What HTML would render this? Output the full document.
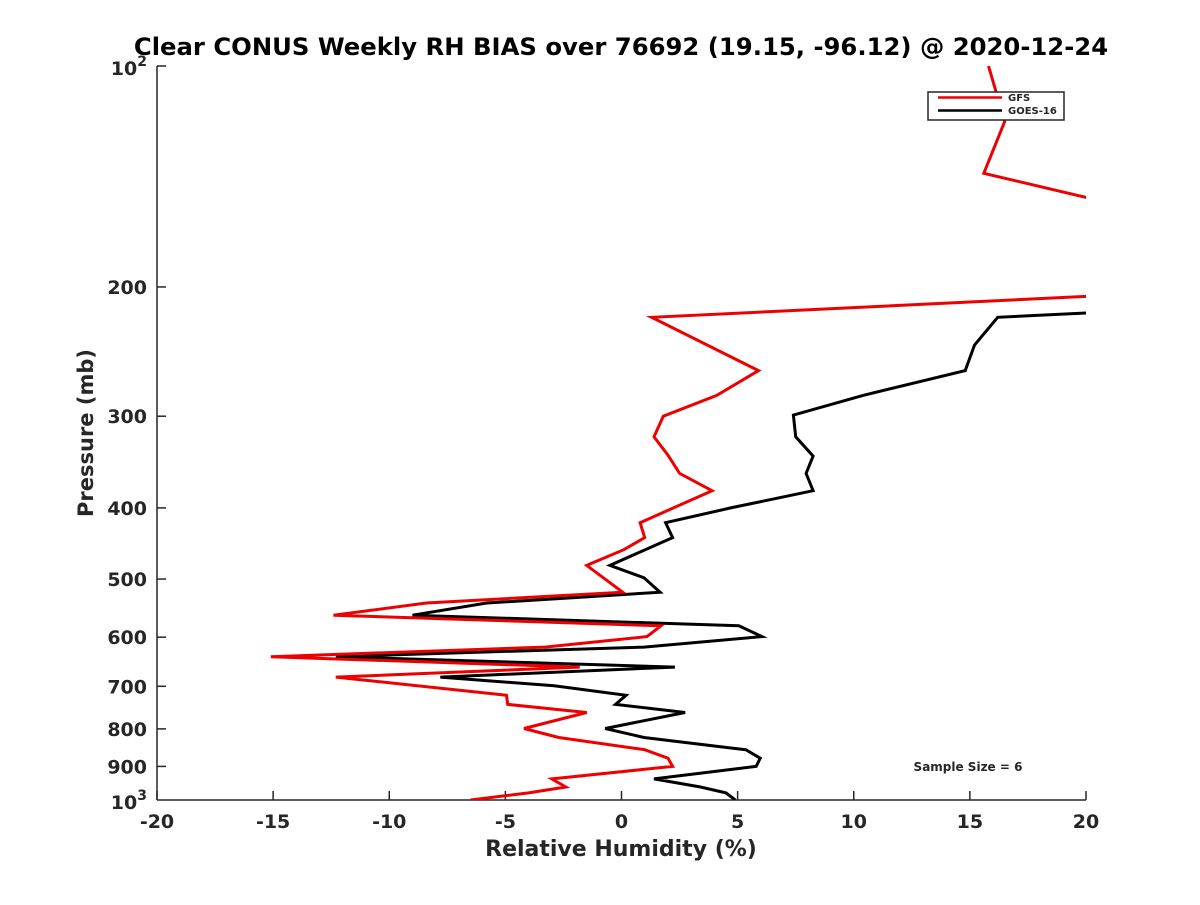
<!DOCTYPE html>
<html><head><meta charset="utf-8"><style>
body{margin:0;background:#fff;}
svg text{font-family:"DejaVu Sans","Liberation Sans",sans-serif;font-weight:bold;fill:#262626;}
</style></head><body>
<svg id="chart" width="1200" height="900" xmlns="http://www.w3.org/2000/svg">
<rect width="1200" height="900" fill="#fff"/>
<defs><clipPath id="plotclip"><rect x="157" y="66" width="929" height="734"/></clipPath></defs>
<text x="621" y="55" font-size="24.3" text-anchor="middle" style="fill:#000">Clear CONUS Weekly RH BIAS over 76692 (19.15, -96.12) @ 2020-12-24</text>
<g id="axes"></g>
<g id="series" clip-path="url(#plotclip)"></g>
<g>
<rect x="928" y="92" width="136" height="28" fill="#fff" stroke="#262626" stroke-width="1.5"/>
<line x1="938" y1="97.5" x2="1002" y2="97.5" stroke="#e00" stroke-width="2.5"/>
<text x="1008" y="101" font-size="10">GFS</text>
<line x1="938" y1="110.5" x2="1002" y2="110.5" stroke="#000" stroke-width="2.5"/>
<text x="1008" y="114" font-size="10">GOES-16</text>
</g>
<text x="968" y="771" font-size="12" text-anchor="middle">Sample Size = 6</text>
</svg>
<script>
const xTicks=[-20,-15,-10,-5,0,5,10,15,20];
const yTicks=[200,300,400,500,600,700,800,900];
const gfsPressure=[100,119,140,151,178,206,220,260,281,300,320,339,359,379,419,439,456,479,521,539,560,579,599,619,638,659,680,720,741,760,799,822,854,877,900,936,960,978,1000];
const gfsValues=[15.8,16.5,15.6,20,28,20,1.3,5.9,4.1,1.8,1.4,2.0,2.5,3.9,0.8,1.0,0.1,-1.5,0.05,-8.4,-12.4,1.7,1.1,-3.3,-15.1,-1.8,-12.3,-4.95,-4.9,-1.5,-4.2,-2.7,1.0,2.0,2.2,-3.0,-2.4,-4.0,-6.5];
const goesPressure=[215,217,220,240,260,281,299,320,340,359,379,400,419,439,479,498,521,529,539,560,579,599,619,638,659,680,699,720,741,760,799,822,850,854,877,900,936,960,978,1000];
const goesValues=[26,20,16.2,15.2,14.8,10.4,7.4,7.5,8.25,7.95,8.25,4.7,1.9,2.2,-0.5,0.97,1.66,-1.6,-5.8,-9.0,5.05,6.05,0.97,-12.3,2.3,-7.8,-2.9,0.2,-0.26,2.74,-0.7,0.97,4.8,5.35,5.97,5.8,1.4,3.4,4.5,4.9];
const X0=157,X1=1086,Y0=66,Y1=800;
function xs(v){return X0+(v+20)/40*(X1-X0);}
function ys(p){return Y0+Math.log10(p/100)*(Y1-Y0);}
const NS='http://www.w3.org/2000/svg';
const axes=document.getElementById('axes'),series=document.getElementById('series');
function mk(tag,attrs,parent){const e=document.createElementNS(NS,tag);for(const k in attrs)e.setAttribute(k,attrs[k]);parent.appendChild(e);return e;}
let l=mk('line',{x1:X0,y1:Y0,x2:X0,y2:Y1,stroke:'#262626','stroke-width':1.5},axes);


l=mk('line',{x1:X0,y1:Y1,x2:X1,y2:Y1,stroke:'#262626','stroke-width':1.5},axes);


mk('line',{x1:X0,y1:Y0,x2:X0+9,y2:Y0,stroke:'#262626','stroke-width':1.5},axes);
xTicks.forEach(v=>{const x=xs(v);
 mk('line',{x1:x,y1:Y1,x2:x,y2:Y1-9,stroke:'#262626','stroke-width':1.5},axes);
 const t=mk('text',{x:x,y:Y1+28,'font-size':19,'text-anchor':'middle'},axes);t.textContent=v;
 
 });
yTicks.forEach(p=>{const y=ys(p);
 mk('line',{x1:X0,y1:y,x2:X0+9,y2:y,stroke:'#262626','stroke-width':1.5},axes);
 const t=mk('text',{x:X0-10,y:y+7,'font-size':19,'text-anchor':'end'},axes);t.textContent=p;
 
 });
[[100,Y0],[1000,Y1]].forEach(([p,y])=>{const t=mk('text',{x:X0-10,y:y+9,'font-size':19,'text-anchor':'end'},axes);
 t.innerHTML='10<tspan dy="-9" font-size="14">'+(p===100?2:3)+'</tspan>';
 
 });
let t=mk('text',{x:621,y:856,'font-size':22,'text-anchor':'middle'},axes);t.textContent='Relative Humidity (%)';


t=mk('text',{x:93,y:433,'font-size':21,'text-anchor':'middle',transform:'rotate(-90 93 433)'},axes);t.textContent='Pressure (mb)';


function line(ps,vs,color,name){const pts=ps.map((p,i)=>xs(vs[i]).toFixed(1)+','+ys(p).toFixed(1)).join(' ');
 const e=mk('polyline',{points:pts,fill:'none',stroke:color,'stroke-width':3,'stroke-linejoin':'miter'},series);
 
 }
line(goesPressure,goesValues,'#000','goes16-line');
line(gfsPressure,gfsValues,'#e00','gfs-line');
</script>
</body></html>
